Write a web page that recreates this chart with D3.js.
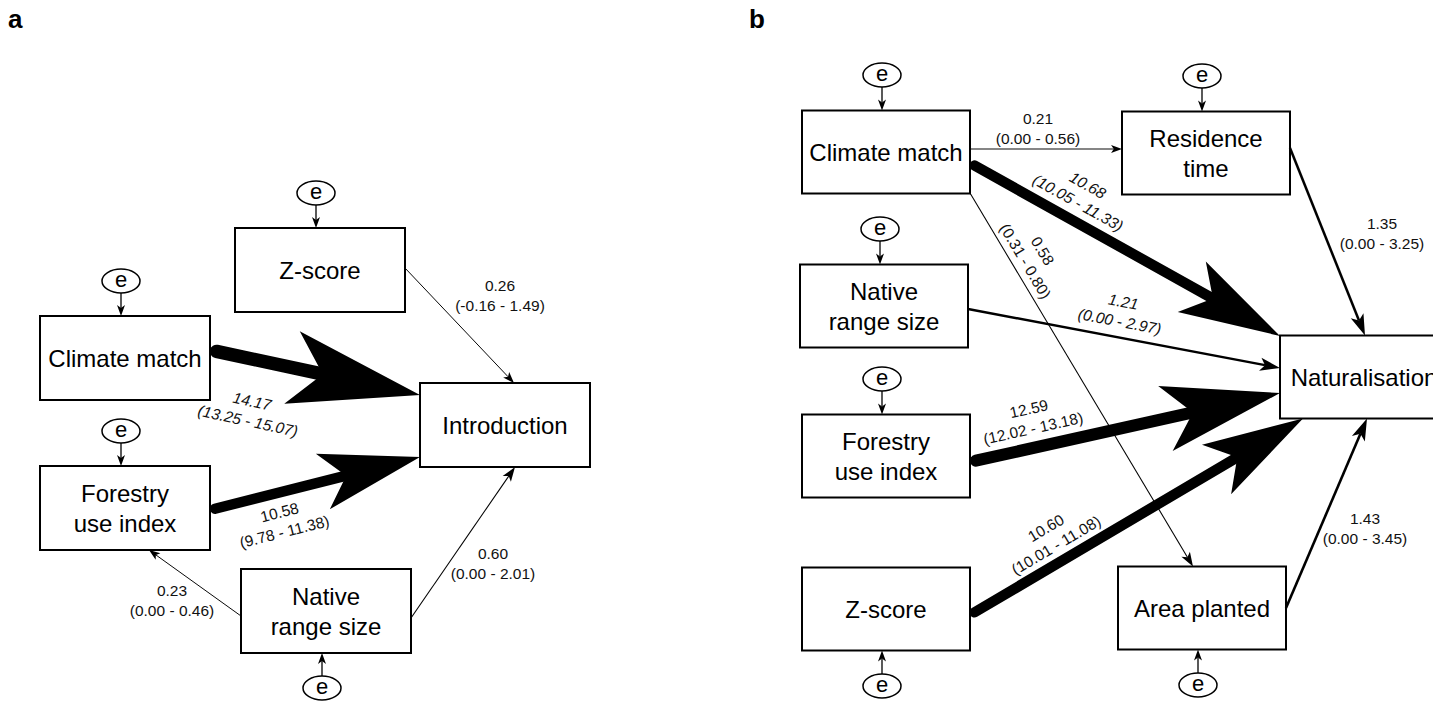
<!DOCTYPE html>
<html>
<head>
<meta charset="utf-8">
<script src="https://cdn.jsdelivr.net/npm/d3@7"></script>
<style>
  body { margin: 0; background: #fff; }
  svg text { font-family: "Liberation Sans", Arial, Helvetica, sans-serif; }
</style>
</head>
<body>
<svg id="chart" width="1433" height="701"></svg>
<script>
// ---- Path coefficients: estimate with lower/upper interval bounds ----

// (a) model of introduction
const introFrom = ["Z-score", "Climate match", "Forestry use index", "Native range size", "Native range size"];
const introTo   = ["Introduction", "Introduction", "Introduction", "Forestry use index", "Introduction"];
const introEst  = [0.26, 14.17, 10.58, 0.23, 0.60];
const introLow  = [-0.16, 13.25, 9.78, 0.00, 0.00];
const introHigh = [1.49, 15.07, 11.38, 0.46, 2.01];

// (b) model of naturalisation
const natFrom = ["Climate match", "Climate match", "Climate match", "Native range size",
                 "Residence time", "Forestry use index", "Z-score", "Area planted"];
const natTo   = ["Residence time", "Naturalisation", "Area planted", "Naturalisation",
                 "Naturalisation", "Naturalisation", "Naturalisation", "Naturalisation"];
const natEst  = [0.21, 10.68, 0.58, 1.21, 1.35, 12.59, 10.60, 1.43];
const natLow  = [0.00, 10.05, 0.31, 0.00, 0.00, 12.02, 10.01, 0.00];
const natHigh = [0.56, 11.33, 0.80, 2.97, 3.25, 13.18, 11.08, 3.45];

// Variable names as printed inside the boxes
const nodeLines = {
  "Z-score": ["Z-score"],
  "Climate match": ["Climate match"],
  "Forestry use index": ["Forestry", "use index"],
  "Native range size": ["Native", "range size"],
  "Introduction": ["Introduction"],
  "Residence time": ["Residence", "time"],
  "Naturalisation": ["Naturalisation"],
  "Area planted": ["Area planted"]
};

// ---- Layout ----
const panels = [
  {
    letter: "a", letterX: 8, boxW: 170, boxH: 84,
    nodes: {
      "Z-score":            { x: 320, y: 270, err: "above" },
      "Climate match":      { x: 125, y: 358, err: "above" },
      "Forestry use index": { x: 125, y: 508, err: "above" },
      "Native range size":  { x: 326, y: 611, err: "below" },
      "Introduction":       { x: 505, y: 425, err: null }
    },
    from: introFrom, to: introTo, est: introEst, low: introLow, high: introHigh,
    // [side, offset] where each edge leaves and enters a box
    anchors: [
      [["r", -2], ["t", 9]],
      [["r", -8], ["l", -30]],
      [["r", 2],  ["l", 32]],
      [["l", 5],  ["b", 24]],
      [["r", 7],  ["b", 10]]
    ],
    // label block centre, rotate with edge, oblique style
    labels: [
      [500, 295, false, false],
      [250, 411, true, true],
      [282, 522, true, false],
      [172, 600, false, false],
      [493, 563, false, false]
    ]
  },
  {
    letter: "b", letterX: 749, boxW: 168, boxH: 83,
    nodes: {
      "Climate match":      { x: 886,  y: 152, err: "above" },
      "Residence time":     { x: 1206, y: 153, err: "above" },
      "Native range size":  { x: 884,  y: 306, err: "above" },
      "Naturalisation":     { x: 1364, y: 377, err: null },
      "Forestry use index": { x: 886,  y: 456, err: "above" },
      "Z-score":            { x: 886,  y: 609, err: "below" },
      "Area planted":       { x: 1202, y: 608, err: "below" }
    },
    from: natFrom, to: natTo, est: natEst, low: natLow, high: natHigh,
    anchors: [
      [["r", -3], ["l", -4]],
      [["r", 11], ["l", -41]],
      [["r", 41], ["t", -9]],
      [["r", 3],  ["l", -9]],
      [["r", -5], ["t", 1]],
      [["r", 6],  ["l", 16]],
      [["r", 6],  ["b", -61]],
      [["r", 0],  ["b", 3]]
    ],
    labels: [
      [1038, 128, false, false],
      [1083, 194, true, true],
      [1034, 256, true, false],
      [1121.5, 311.5, true, true],
      [1382, 233, false, false],
      [1031, 418.5, true, false],
      [1051, 536.5, true, false],
      [1365, 528, false, false]
    ]
  }
];

// Edge thickness and arrowhead size follow the coefficient
const strokeW  = d3.scaleLinear().domain([0, 0.7, 1.2, 15]).range([0.9, 1.1, 2.4, 14.1]);
const headLen  = d3.scaleLinear().domain([0, 1.2, 15]).range([9, 20, 138]);
const headHalf = d3.scaleLinear().domain([0, 1.2, 15]).range([3.5, 6.5, 39]);

const fmt = v => v.toFixed(2);
const svg = d3.select("#chart");

function anchorPoint(node, spec, bw, bh) {
  const [side, off] = spec;
  if (side === "r") return [node.x + bw / 2, node.y + off];
  if (side === "l") return [node.x - bw / 2, node.y + off];
  if (side === "t") return [node.x + off, node.y - bh / 2];
  return [node.x + off, node.y + bh / 2];
}

function drawArrow(g, p1, p2, w, L, hw, N) {
  const dx = p2[0] - p1[0], dy = p2[1] - p1[1];
  const len = Math.hypot(dx, dy);
  const ux = dx / len, uy = dy / len, nx = -uy, ny = ux;
  const round = w > 3;
  const s = round ? [p1[0] + ux * w / 2, p1[1] + uy * w / 2] : p1;
  const notch = [p2[0] - ux * N, p2[1] - uy * N];
  g.append("line")
    .attr("x1", s[0]).attr("y1", s[1])
    .attr("x2", notch[0]).attr("y2", notch[1])
    .attr("stroke", "#000").attr("stroke-width", w)
    .attr("stroke-linecap", round ? "round" : "butt");
  const bx = p2[0] - ux * L, by = p2[1] - uy * L;
  g.append("path")
    .attr("d", `M${p2[0]},${p2[1]}L${bx + nx * hw},${by + ny * hw}L${notch[0]},${notch[1]}L${bx - nx * hw},${by - ny * hw}Z`)
    .attr("fill", "#000");
  return Math.atan2(dy, dx) * 180 / Math.PI;
}

panels.forEach(p => {
  const g = svg.append("g");
  const bw = p.boxW, bh = p.boxH;

  // panel letter
  g.append("text")
    .attr("x", p.letterX).attr("y", 28)
    .attr("font-size", 26).attr("font-weight", "bold")
    .text(p.letter);

  // boxes
  const nodeIds = Object.keys(p.nodes);
  nodeIds.forEach(id => {
    const n = p.nodes[id];
    g.append("rect")
      .attr("x", n.x - bw / 2).attr("y", n.y - bh / 2)
      .attr("width", bw).attr("height", bh)
      .attr("fill", "#fff").attr("stroke", "#000").attr("stroke-width", 2);
    const lines = nodeLines[id];
    const base = lines.length === 1 ? [9] : [-6, 24];
    lines.forEach((t, i) => {
      g.append("text")
        .attr("x", n.x).attr("y", n.y + base[i])
        .attr("text-anchor", "middle").attr("font-size", 24)
        .text(t);
    });

    // residual error terms
    if (n.err) {
      const ex = n.x - 4;
      const dir = n.err === "above" ? -1 : 1;
      const ey = n.y + dir * 77;
      const rx = 19, ry = 12;
      g.append("ellipse")
        .attr("cx", ex).attr("cy", ey).attr("rx", rx).attr("ry", ry)
        .attr("fill", "#fff").attr("stroke", "#000").attr("stroke-width", 1.5);
      g.append("text")
        .attr("x", ex).attr("y", ey + 6)
        .attr("text-anchor", "middle").attr("font-size", 22)
        .text("e");
      const start = [ex, ey - dir * ry];
      const end = [ex, n.y + dir * bh / 2];
      drawArrow(g, start, end, 1.3, 11, 4, 8);
    }
  });

  // paths with coefficient labels
  p.est.forEach((v, i) => {
    const a = p.nodes[p.from[i]], b = p.nodes[p.to[i]];
    const p1 = anchorPoint(a, p.anchors[i][0], bw, bh);
    const p2 = anchorPoint(b, p.anchors[i][1], bw, bh);
    const L = headLen(v);
    const ang = drawArrow(g, p1, p2, strokeW(v), L, headHalf(v), L * 0.76);

    const [lx, ly, rot, oblique] = p.labels[i];
    const rotA = rot ? (ang > 90 ? ang - 180 : (ang < -90 ? ang + 180 : ang)) : 0;
    const lg = g.append("g")
      .attr("transform", `translate(${lx},${ly}) rotate(${rotA})`);
    [fmt(v), `(${fmt(p.low[i])} - ${fmt(p.high[i])})`].forEach((t, k) => {
      lg.append("text")
        .attr("x", 0).attr("y", k === 0 ? -4.5 : 15.5)
        .attr("text-anchor", "middle").attr("font-size", 15.5)
        .attr("font-style", oblique ? "italic" : "normal")
        .attr("fill", "#111")
        .text(t);
    });
  });
});
</script>
</body>
</html>
